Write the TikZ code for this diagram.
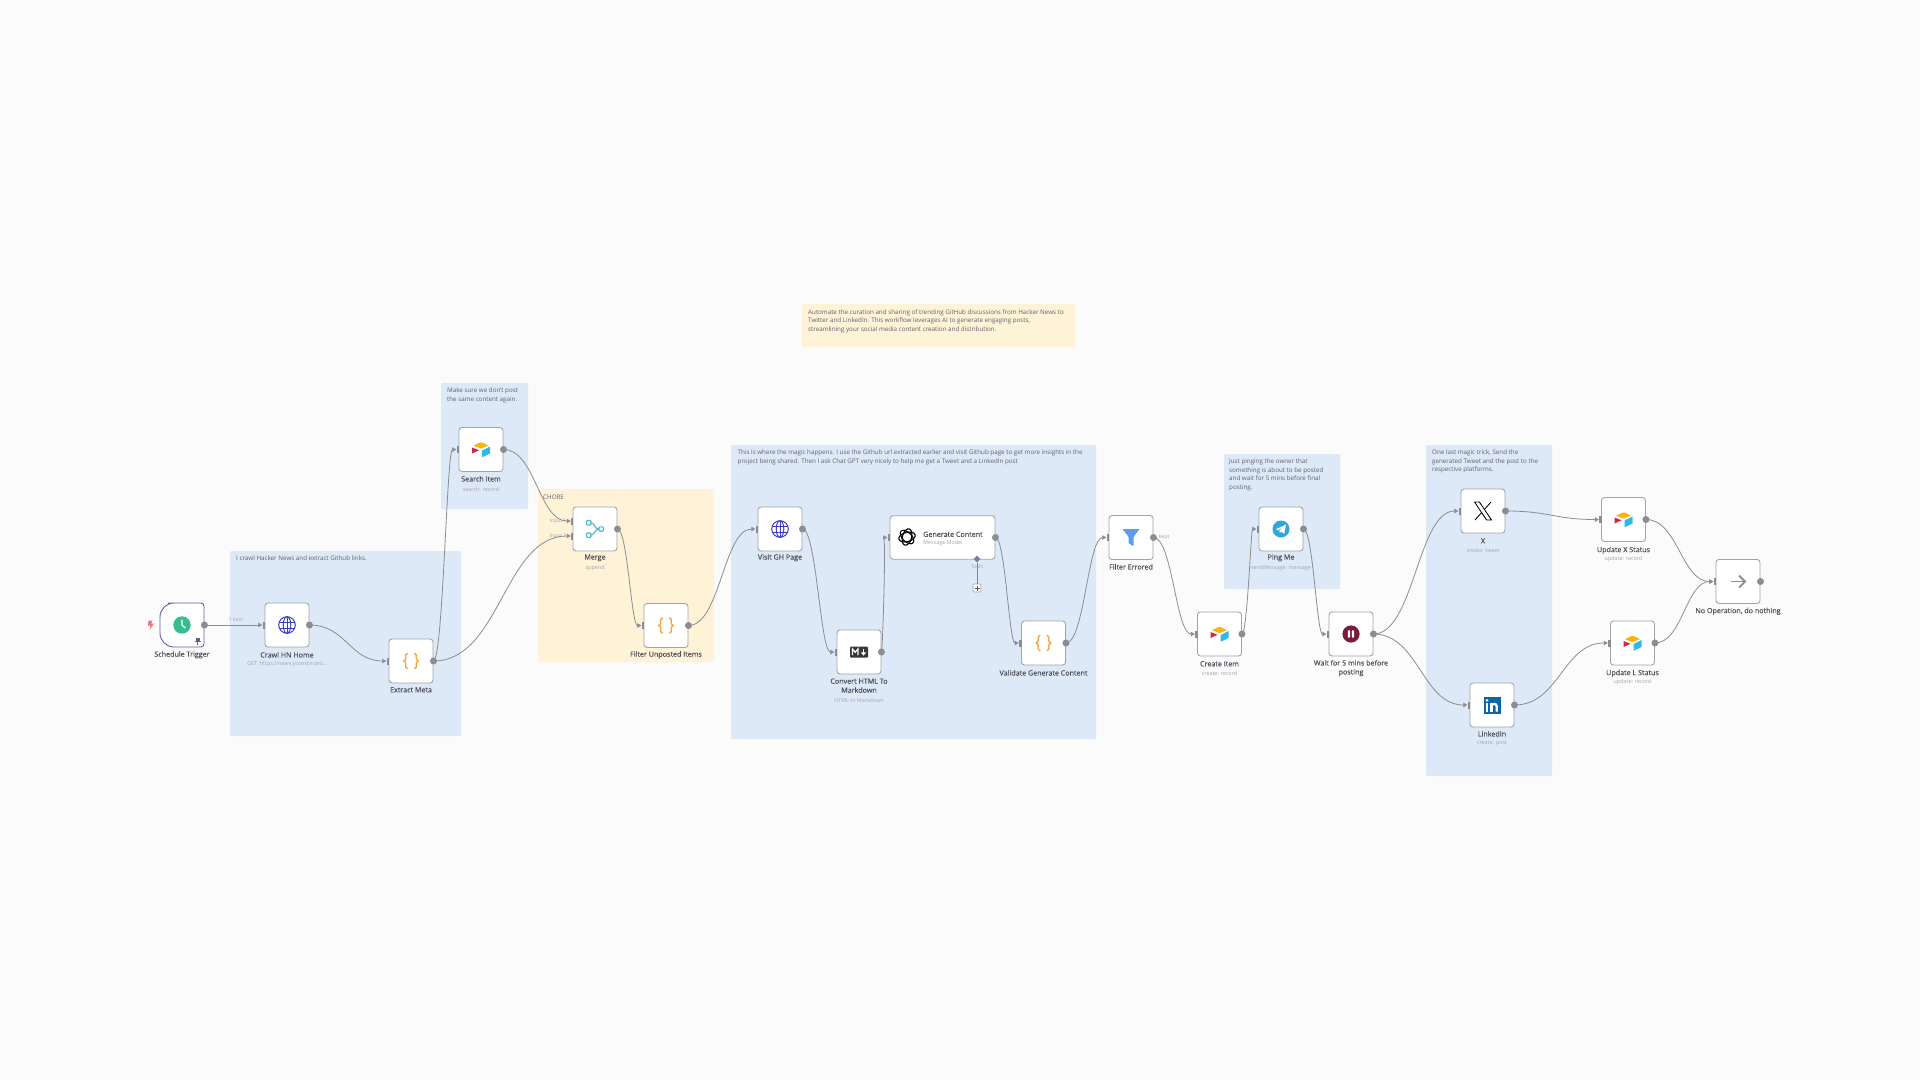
\documentclass[tikz,border=0pt]{standalone}
\usepackage{fontspec}
\setmainfont{Open Sans}
\newfontfamily\ttlfont[FakeBold=0.25]{Open Sans}
\usetikzlibrary{arrows.meta,calc,shapes.geometric}
\definecolor{canvas}{HTML}{FBFBFB}
\definecolor{blueNote}{HTML}{DDE9F7}
\definecolor{yellowNote}{HTML}{FEF3D6}
\definecolor{edgeGray}{HTML}{8C8C92}
\definecolor{boxGray}{HTML}{A3A3A8}
\definecolor{titleInk}{HTML}{50505A}
\definecolor{subInk}{HTML}{A5A5AD}
\definecolor{noteInk}{HTML}{62626C}
\definecolor{purpleTrig}{HTML}{6F55A8}
\definecolor{globeBlue}{HTML}{3C3CBE}
\definecolor{braceOrange}{HTML}{F2A53C}
\definecolor{toolLine}{HTML}{7C7CA8}
\definecolor{airY}{HTML}{FCB400}
\definecolor{airR}{HTML}{D8224C}
\definecolor{airB}{HTML}{2EB9EE}
\definecolor{mergeTeal}{HTML}{4DB8CC}
\definecolor{funnelBlue}{HTML}{5C9FEE}
\definecolor{teleBlue}{HTML}{2FA6DE}
\definecolor{waitRed}{HTML}{7B1A3C}
\definecolor{inBlue}{HTML}{0A66A6}
\definecolor{clockGreen}{HTML}{35BD8F}
\definecolor{boltRed}{HTML}{F0707A}
\tikzset{
  x=1pt,y=-1pt,
  wfbox/.style={draw=boxGray,line width=.9pt,fill=white,rounded corners=3pt,minimum width=44pt,minimum height=44pt,inner sep=0pt},
  outdot/.style={circle,fill=edgeGray,minimum size=7pt,inner sep=0pt},
  inport/.style={rectangle,fill=edgeGray,minimum width=2.5pt,minimum height=7pt,inner sep=0pt},
  link/.style={draw=edgeGray,line width=.8pt,-{Triangle[length=4pt,width=4.5pt]}},
  note/.style={rectangle,rounded corners=1pt,anchor=north west,inner sep=0pt,draw=none},
  notetext/.style={anchor=north west,inner sep=0pt,align=left,text=noteInk,font=\fontsize{6.25}{8.5}\selectfont},
  ttl/.style={inner sep=0pt,text=titleInk,align=center,font=\ttlfont\fontsize{7.15}{9}\selectfont,yshift=-.8pt},
  subt/.style={inner sep=0pt,text=subInk,font=\fontsize{5.4}{7}\selectfont,yshift=-.5pt},
  tiny/.style={inner sep=0pt,text=subInk,font=\fontsize{5}{6}\selectfont},
}
\newcommand{\wfnode}[3]{%
  \node[wfbox] (#1) at (#2,#3) {};
  \node[outdot] (#1-o) at (#1.east) {};
  \node[inport] (#1-i) at ([xshift=-.8pt]#1.west) {};}
\newcommand{\lnk}[2]{%
  \draw[link] let \p1=(#1.east),\p2=(#2.west),\n1={0.5*(\x2-\x1)} in
   (#1.center) .. controls +(\n1,0pt) and +(-\n1,0pt) .. (#2.west);}
\newcommand{\icoGlobe}[1]{\begin{scope}[shift={(#1)},draw=globeBlue,line width=1pt]
  \draw (0,0) circle (8.3);\draw (0,0) ellipse (3.8 and 8.3);
  \draw (0,-8.3)--(0,8.3);\draw (-7.6,-3)--(7.6,-3);\draw (-7.6,3)--(7.6,3);\end{scope}}
\newcommand{\icoBrace}[1]{\begin{scope}[shift={(#1)},draw=braceOrange,line width=1.3pt,line cap=round]
  \draw (-3.5,-7.5) .. controls (-5.5,-7.5) and (-5.2,-6) .. (-5.2,-4) .. controls (-5.2,-2) and (-5.3,-.3) .. (-7.3,0) .. controls (-5.3,.3) and (-5.2,2) .. (-5.2,4) .. controls (-5.2,6) and (-5.5,7.5) .. (-3.5,7.5);
  \draw (3.5,-7.5) .. controls (5.5,-7.5) and (5.2,-6) .. (5.2,-4) .. controls (5.2,-2) and (5.3,-.3) .. (7.3,0) .. controls (5.3,.3) and (5.2,2) .. (5.2,4) .. controls (5.2,6) and (5.5,7.5) .. (3.5,7.5);\end{scope}}
\newcommand{\icoAir}[1]{\begin{scope}[shift={(#1)}]
  \fill[airY] (-7.5,-3.8)--(-1,-7)--(1,-7)--(7.5,-3.8)--(0,-1)--cycle;
  \fill[airR] (-9,-2)--(-2,.8)--(-9,4)--cycle;
  \fill[airB] (1,1)--(9,-3)--(9,4)--(1,7.8)--cycle;\end{scope}}
\newcommand{\icoMerge}[1]{\begin{scope}[shift={(#1)},draw=mergeTeal,line width=1.1pt]
  \draw[rounded corners=1pt] (-8.5,-8.5) rectangle (-4,-4);
  \draw[rounded corners=1pt] (-8.5,4) rectangle (-4,8.5);
  \draw[rounded corners=1pt] (4,-2.2) rectangle (8.5,2.2);
  \draw (-4,-6.2) .. controls (0,-6.2) and (-1,0) .. (4,0);
  \draw (-4,6.2) .. controls (0,6.2) and (-1,0) .. (4,0);\end{scope}}
\newcommand{\icoMd}[1]{\begin{scope}[shift={(#1)}]
  \fill[black!78,rounded corners=1pt] (-9,-5.5) rectangle (9,5.5);
  \draw[white,line width=1.2pt] (-6.5,3)--(-6.5,-3)--(-3.8,.2)--(-1.1,-3)--(-1.1,3);
  \draw[white,line width=1.3pt] (4.5,-3)--(4.5,1.5);
  \fill[white] (1.8,.4)--(7.2,.4)--(4.5,3.6)--cycle;\end{scope}}
\newcommand{\icoAI}[1]{\begin{scope}[shift={(#1)},draw=black,line width=1.1pt]
  \foreach \a in {15,75,135} {\draw[rotate=\a] (0,0) ellipse (8.4 and 4.6);}\end{scope}}
\newcommand{\icoFunnel}[1]{\begin{scope}[shift={(#1)}]
  \fill[funnelBlue,rounded corners=.8pt] (-8.7,-8.5)--(8.7,-8.5)--(2.6,-.8)--(2.6,8.8)--(-2.4,5.8)--(-2.4,-.8)--cycle;\end{scope}}
\newcommand{\icoTele}[1]{\begin{scope}[shift={(#1)}]
  \fill[teleBlue] (0,0) circle (8.5);
  \fill[white] (-5.2,.2)--(5,-4.3)--(3.2,4.8)--(.2,2.6)--(-1.2,4)--(-1.6,1.5)--(2.8,-2.3)--(-2.8,1)--cycle;\end{scope}}
\newcommand{\icoWait}[1]{\begin{scope}[shift={(#1)}]
  \fill[waitRed] (0,0) circle (8.6);
  \fill[white,rounded corners=.6pt] (-3.2,-3.6) rectangle (-.9,3.6);
  \fill[white,rounded corners=.6pt] (.9,-3.6) rectangle (3.2,3.6);\end{scope}}
\newcommand{\icoX}[1]{\begin{scope}[shift={(#1)},line width=.85pt,draw=black]
  \draw (8,-9)--(.8,-.9);\draw (-.8,.9)--(-8,9);
  \draw[fill=white] (-8.5,-9)--(-3.6,-9)--(8.5,9)--(3.6,9)--cycle;\end{scope}}
\newcommand{\icoIn}[1]{\begin{scope}[shift={(#1)}]
  \fill[inBlue] (-8.5,-8.5) rectangle (8.5,8.5);
  \fill[white] (-5,-4.7) circle (1.5);
  \fill[white] (-6.2,-2.4) rectangle (-3.8,6.5);
  \fill[white] (-1.8,-2.4) rectangle (.5,6.5);
  \draw[white,line width=2.3pt] (-.6,1) .. controls (-.4,-1.5) and (4.8,-2.2) .. (4.8,1.5) -- (4.8,6.5);\end{scope}}
\newcommand{\icoArrow}[1]{\begin{scope}[shift={(#1)},draw=edgeGray,line width=1.8pt]
  \draw (-7.5,0)--(7,0);\draw (1,-6)--(7,0)--(1,6);\end{scope}}
\begin{document}
\begin{tikzpicture}
\useasboundingbox (0,0) rectangle (1920,1080);
\fill[canvas] (0,0) rectangle (1920,1080);
% sticky notes
\node[note,fill=yellowNote,minimum width=273pt,minimum height=43pt] (noteTop) at (802,304) {};
\node[note,fill=blueNote,minimum width=87pt,minimum height=126pt] (noteSearch) at (441,383) {};
\node[note,fill=blueNote,minimum width=231pt,minimum height=185pt] (noteCrawl) at (230,551) {};
\node[note,fill=yellowNote,minimum width=176pt,minimum height=173pt] (noteChore) at (538,489) {};
\node[note,fill=blueNote,minimum width=365pt,minimum height=294pt] (noteMagic) at (731,445) {};
\node[note,fill=blueNote,minimum width=116pt,minimum height=135pt] (notePing) at (1224,454) {};
\node[note,fill=blueNote,minimum width=126pt,minimum height=331pt] (noteLast) at (1426,445) {};
\node[notetext] (tTop) at (808,309.5) {Automate the curation and sharing of trending GitHub discussions from Hacker News to\\Twitter and LinkedIn. This workflow leverages AI to generate engaging posts,\\streamlining your social media content creation and distribution.};
\node[notetext] (tSearch) at (447,388) {Make sure we don't post\\the same content again.};
\node[notetext] (tCrawl) at (236,555.5) {I crawl Hacker News and extract Github links.};
\node[notetext] (tChore) at (543,494.5) {CHORE};
\node[notetext] (tMagic) at (737.5,450) {This is where the magic happens. I use the Github url extracted earlier and visit Github page to get more insights in the\\project being shared. Then I ask Chat GPT very nicely to help me get a Tweet and a LinkedIn post};
\node[notetext] (tPing) at (1229,459) {Just pinging the owner that\\something is about to be posted\\and wait for 5 mins before final\\posting.};
\node[notetext] (tLast) at (1432,450) {One last magic trick, Send the\\generated Tweet and the post to the\\respective platforms.};
% workflow nodes
\node[wfbox,draw=none,fill=none] (trigger) at (182,625) {};
\begin{scope}[shift={(trigger.center)}]
\draw[purpleTrig,fill=white,line width=.9pt,rounded corners=3pt] (0,-22)--(22,-22)--(22,22)--(0,22) [rounded corners=14pt] --(-22,22)--(-22,-22)--cycle;
\fill[clockGreen] (0,0) circle (8.7);
\draw[white,line width=1.3pt,line cap=round] (0,-5)--(0,0)--(3.2,3);
\fill[boltRed] (-33.5,-4.5)--(-29.5,-4.5)--(-30.8,-1.5)--(-28,-1.5)--(-32.5,5)--(-31.4,.5)--(-34,.5)--cycle;
\fill[purpleTrig] (14,12.5) rectangle (17.5,16);
\fill[purpleTrig] (13,15.5) rectangle (18.5,17);
\draw[purpleTrig,line width=.8pt] (15.75,17)--(15.75,20);
\end{scope}
\node[outdot] (trigger-o) at (trigger.east) {};
\wfnode{crawl}{287}{625}
\wfnode{extract}{411}{661}
\wfnode{search}{481}{449.5}
\node[wfbox] (merge) at (595,529) {};
\node[outdot] (merge-o) at (merge.east) {};
\node[inport] (merge-a) at (572.2,521) {};
\node[inport] (merge-b) at (572.2,536) {};
\wfnode{unposted}{666}{625.5}
\wfnode{visit}{780}{529}
\wfnode{convert}{859}{652}
\node[wfbox,minimum width=105pt,minimum height=43.5pt] (generate) at (942.5,537.5) {};
\node[outdot] (generate-o) at (generate.east) {};
\node[inport] (generate-i) at ([xshift=-.8pt]generate.west) {};
\wfnode{validate}{1043.5}{643}
\wfnode{errored}{1131}{537.5}
\wfnode{create}{1219.5}{634}
\wfnode{ping}{1281}{529}
\wfnode{wait}{1351}{634}
\wfnode{tweet}{1483}{511}
\wfnode{linked}{1492}{705}
\wfnode{updx}{1623.5}{519.5}
\wfnode{updl}{1632.5}{643}
\wfnode{noop}{1738}{581.5}
% tools port
\node[diamond,aspect=1,fill=toolLine,minimum size=7pt,inner sep=0pt] (toolport) at (977,559) {};
\node[draw=boxGray,fill=white,rounded corners=.8pt,line width=.6pt,minimum size=8pt,inner sep=0pt] (toolplus) at (977,588) {};
\draw[toolLine,line width=.8pt] (toolport) -- (toolplus.north);
\draw[black!65,line width=.5pt] (974.5,588)--(979.5,588) (977,585.5)--(977,590.5);
% icons
\icoGlobe{crawl.center}\icoBrace{extract.center}\icoAir{search.center}
\icoMerge{merge.center}\icoBrace{unposted.center}\icoGlobe{visit.center}
\icoMd{convert.center}\icoAI{907,537}\icoBrace{validate.center}
\icoFunnel{errored.center}\icoAir{create.center}\icoTele{ping.center}
\icoWait{wait.center}\icoX{tweet.center}\icoIn{linked.center}
\icoAir{updx.center}\icoAir{updl.center}\icoArrow{noop.center}
% labels
\node[ttl] (l1) at (182,654) {Schedule Trigger};
\node[ttl] (l2) at (287,654) {Crawl HN Home};
\node[subt] (s2) at (287,664) {GET: https://news.ycombinato...};
\node[ttl] (l3) at (411,689) {Extract Meta};
\node[ttl] (l4) at (481,478) {Search Item};
\node[subt] (s4) at (481,489) {search: record};
\node[ttl] (l5) at (595,557) {Merge};
\node[subt] (s5) at (595,568) {append};
\node[ttl] (l6) at (666,654) {Filter Unposted Items};
\node[ttl] (l7) at (780,557) {Visit GH Page};
\node[ttl,anchor=north] (l8) at (859,677.5) {Convert HTML To\\Markdown};
\node[subt] (s8) at (859,700) {HTML to Markdown};
\node[ttl,anchor=west] (l9) at (923,533.5) {Generate Content};
\node[subt,anchor=west] (s9) at (923,543) {Message Model};
\node[tiny] (l9b) at (977,567) {Tools};
\node[ttl] (l10) at (1043.5,672) {Validate Generate Content};
\node[ttl] (l11) at (1131,566) {Filter Errored};
\node[tiny] (k11) at (1164,537) {Kept};
\node[ttl] (l12) at (1219.5,663) {Create Item};
\node[subt] (s12) at (1219.5,673) {create: record};
\node[ttl] (l13) at (1281,557) {Ping Me};
\node[subt] (s13) at (1281,568) {sendMessage: message};
\node[ttl,anchor=north] (l14) at (1351,659) {Wait for 5 mins before\\posting};
\node[ttl] (l15) at (1483,540) {X};
\node[subt] (s15) at (1483,550) {create: tweet};
\node[ttl] (l16) at (1492,733) {LinkedIn};
\node[subt] (s16) at (1492,743) {create: post};
\node[ttl] (l17) at (1623.5,549.5) {Update X Status};
\node[subt] (s17) at (1623.5,559) {update: record};
\node[ttl] (l18) at (1632.5,672.5) {Update L Status};
\node[subt] (s18) at (1632.5,682) {update: record};
\node[ttl] (l19) at (1738,610.5) {No Operation, do nothing};
\node[tiny] (i1) at (236,620) {1 item};
\node[tiny] (i2) at (558,521) {Input 1};
\node[tiny] (i3) at (558,536) {Input 2};
% connectors
\draw[link] (trigger-o) -- (crawl-i.west);
\lnk{crawl-o}{extract-i}
\lnk{extract-o}{search-i}
\lnk{extract-o}{merge-b}
\lnk{search-o}{merge-a}
\lnk{merge-o}{unposted-i}
\lnk{unposted-o}{visit-i}
\lnk{visit-o}{convert-i}
\lnk{convert-o}{generate-i}
\lnk{generate-o}{validate-i}
\lnk{validate-o}{errored-i}
\lnk{errored-o}{create-i}
\lnk{create-o}{ping-i}
\lnk{ping-o}{wait-i}
\lnk{wait-o}{tweet-i}
\lnk{wait-o}{linked-i}
\lnk{tweet-o}{updx-i}
\lnk{linked-o}{updl-i}
\lnk{updx-o}{noop-i}
\lnk{updl-o}{noop-i}
\end{tikzpicture}
\end{document}
